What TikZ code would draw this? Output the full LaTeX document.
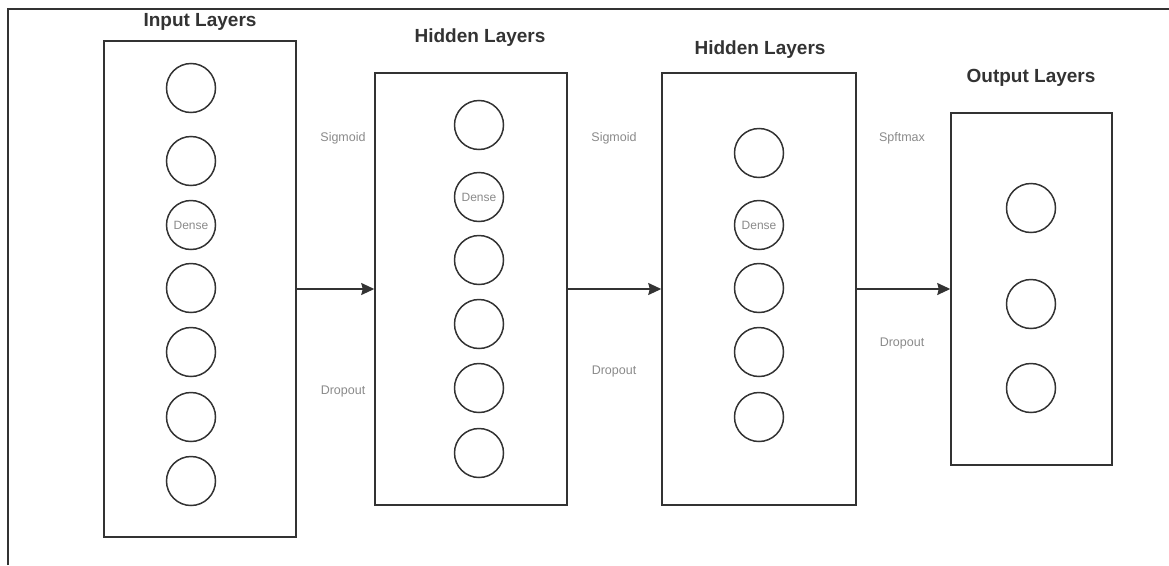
\documentclass[tikz,border=0pt]{standalone}
\usepackage{fontspec}
\setmainfont{Liberation Sans}
\usepackage{tikz}
\usetikzlibrary{arrows.meta,positioning}

\definecolor{titlegray}{HTML}{333333}
\definecolor{labelgray}{HTML}{8A8A8A}
\definecolor{linegray}{HTML}{333333}

\begin{document}
\begin{tikzpicture}[
    x=1pt, y=-1pt,
    >={Stealth[length=13pt,width=12pt,inset=1.5pt]},
    layerbox/.style={draw=linegray,line width=1.5pt,rectangle,inner sep=0pt},
    neuron/.style={draw=linegray,line width=1.5pt,circle,minimum size=49pt,inner sep=0pt,
        font=\fontsize{12}{13}\selectfont,text=labelgray},
    layertitle/.style={font=\fontsize{19}{22}\selectfont\bfseries,text=titlegray},
    actlabel/.style={font=\fontsize{12.5}{14}\selectfont,text=labelgray},
    flow/.style={draw=linegray,line width=1.5pt,->}
]

\useasboundingbox (0,0) rectangle (1169,565);

% outer frame (only top and left edges show)
\draw[black!80,line width=1.5pt] (8,565) -- (8,9) -- (1169,9);

% ===== Input layer =====
\node[layertitle] (tin) at (200,22) {Input Layers};
\node[layerbox,minimum width=192pt,minimum height=496pt] (inl) at (200,289) {};
\foreach \i/\yy in {1/88,2/161,4/288,5/352,6/417,7/481}
    \node[neuron] (in\i) at (191,\yy) {};
\node[neuron] (in3) at (191,225) {Dense};

% ===== Hidden layer 1 =====
\node[layertitle] (thida) at (480,38) {Hidden Layers};
\node[layerbox,minimum width=192pt,minimum height=432pt] (hida) at (471,289) {};
\foreach \i/\yy in {1/125,3/260,4/324,5/388,6/453}
    \node[neuron] (ha\i) at (479,\yy) {};
\node[neuron] (ha2) at (479,197) {Dense};

% ===== Hidden layer 2 =====
\node[layertitle] (thidb) at (760,50) {Hidden Layers};
\node[layerbox,minimum width=194pt,minimum height=432pt] (hidb) at (759,289) {};
\foreach \i/\yy in {1/153,3/288,4/352,5/417}
    \node[neuron] (hb\i) at (759,\yy) {};
\node[neuron] (hb2) at (759,225) {Dense};

% ===== Output layer =====
\node[layertitle] (tout) at (1031,78) {Output Layers};
\node[layerbox,minimum width=161pt,minimum height=352pt] (outl) at (1031.5,289) {};
\foreach \i/\yy in {1/208,2/304,3/388}
    \node[neuron] (out\i) at (1031,\yy) {};

% ===== Connections between layers =====
\draw[flow] (inl.east) -- (hida.west);
\draw[flow] (hida.east) -- (hidb.west);
\draw[flow] (hidb.east) -- (outl.west);

% activation / regularisation labels
\node[actlabel] (siga) at (343,138) {Sigmoid};
\node[actlabel] (dropa) at (343,391) {Dropout};
\node[actlabel] (sigb) at (614,138) {Sigmoid};
\node[actlabel] (dropb) at (614,371) {Dropout};
\node[actlabel] (soft) at (902,138) {Spftmax};
\node[actlabel] (dropc) at (902,343) {Dropout};

\end{tikzpicture}
\end{document}
